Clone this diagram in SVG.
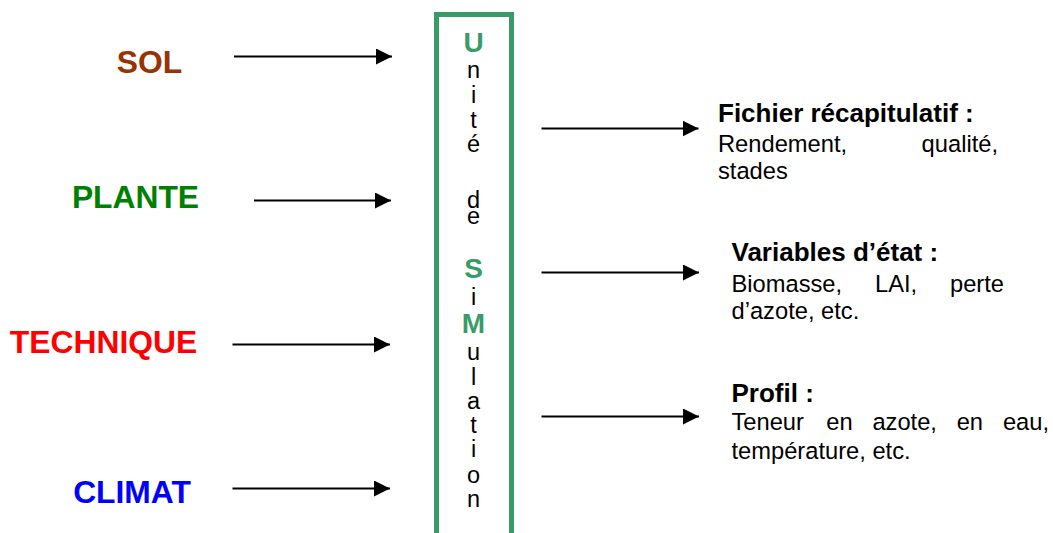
<svg xmlns="http://www.w3.org/2000/svg" width="1053" height="533" viewBox="0 0 1053 533">
<style>
text{font-family:"Liberation Sans",Arial,sans-serif}
.lab{font-size:31.8px;font-weight:bold;text-anchor:middle}
.ul{font-size:23.5px;fill:#000;text-anchor:middle}
.ub{font-size:28px;font-weight:bold;fill:#3A9B6A;text-anchor:middle}
.hd{font-size:26px;font-weight:bold;fill:#000}
.bd{font-size:23.7px;fill:#000}
.arr{stroke:#000;stroke-width:2;fill:none;marker-end:url(#ah)}
</style>
<defs>
<marker id="ah" markerUnits="userSpaceOnUse" markerWidth="16" markerHeight="16" refX="16" refY="8" orient="auto">
<path d="M0,0 L16,8 L0,16 Z" fill="#000"/>
</marker>
</defs>
<rect width="1053" height="533" fill="#fff"/>
<g id="sol"><text class="lab" x="149.5" y="72.5" fill="#993300">SOL</text></g>
<g id="plante"><text class="lab" x="135.5" y="208" fill="#008000">PLANTE</text></g>
<g id="technique"><text class="lab" x="103.5" y="353" fill="#FF0000">TECHNIQUE</text></g>
<g id="climat"><text class="lab" x="132" y="503" fill="#0000FF">CLIMAT</text></g>
<g id="usm">
<rect x="436.5" y="14.5" width="75" height="530" fill="none" stroke="#3A9B6A" stroke-width="5"/>
<text class="ub" x="473.5" y="52">U</text>
<text class="ul" x="473.5" y="78">n</text>
<text class="ul" x="473.5" y="103">i</text>
<text class="ul" x="473.5" y="128">t</text>
<text class="ul" x="473.5" y="152">é</text>
<text class="ul" x="473.5" y="208">d</text>
<text class="ul" x="473.5" y="223.5">e</text>
<text class="ub" x="473.5" y="278">S</text>
<text class="ul" x="473.5" y="305">i</text>
<text class="ub" x="473.5" y="333">M</text>
<text class="ul" x="473.5" y="360">u</text>
<text class="ul" x="473.5" y="385">l</text>
<text class="ul" x="473.5" y="408.5">a</text>
<text class="ul" x="473.5" y="433">t</text>
<text class="ul" x="473.5" y="457">i</text>
<text class="ul" x="473.5" y="483">o</text>
<text class="ul" x="473.5" y="507">n</text>
</g>
<g id="fichier">
<text class="hd" x="718" y="121.5">Fichier récapitulatif :</text>
<text class="bd" x="718" y="151.5">Rendement,</text>
<text class="bd" x="998" y="151.5" text-anchor="end">qualité,</text>
<text class="bd" x="718" y="178.5">stades</text>
</g>
<g id="variables">
<text class="hd" x="731.5" y="261">Variables d’état :</text>
<text class="bd" x="731.5" y="291.5">Biomasse,</text>
<text class="bd" x="875" y="291.5">LAI,</text>
<text class="bd" x="1004" y="291.5" text-anchor="end">perte</text>
<text class="bd" x="731.5" y="319">d’azote, etc.</text>
</g>
<g id="profil">
<text class="hd" x="731.5" y="401.5">Profil :</text>
<text class="bd" x="731.5" y="430">Teneur</text>
<text class="bd" x="826.3" y="430">en</text>
<text class="bd" x="872.4" y="430">azote,</text>
<text class="bd" x="956.7" y="430">en</text>
<text class="bd" x="1049" y="430" text-anchor="end">eau,</text>
<text class="bd" x="731.5" y="458.5">température, etc.</text>
</g>
<g id="connectors">
<line class="arr" x1="234" y1="56.5" x2="392" y2="56.5"/>
<line class="arr" x1="254" y1="200.5" x2="391" y2="200.5"/>
<line class="arr" x1="232.5" y1="344.5" x2="390" y2="344.5"/>
<line class="arr" x1="232.5" y1="488.5" x2="390" y2="488.5"/>
<line class="arr" x1="541.5" y1="128.5" x2="698.5" y2="128.5"/>
<line class="arr" x1="541.5" y1="272.5" x2="699" y2="272.5"/>
<line class="arr" x1="541.5" y1="416.5" x2="699" y2="416.5"/>
</g>
</svg>
